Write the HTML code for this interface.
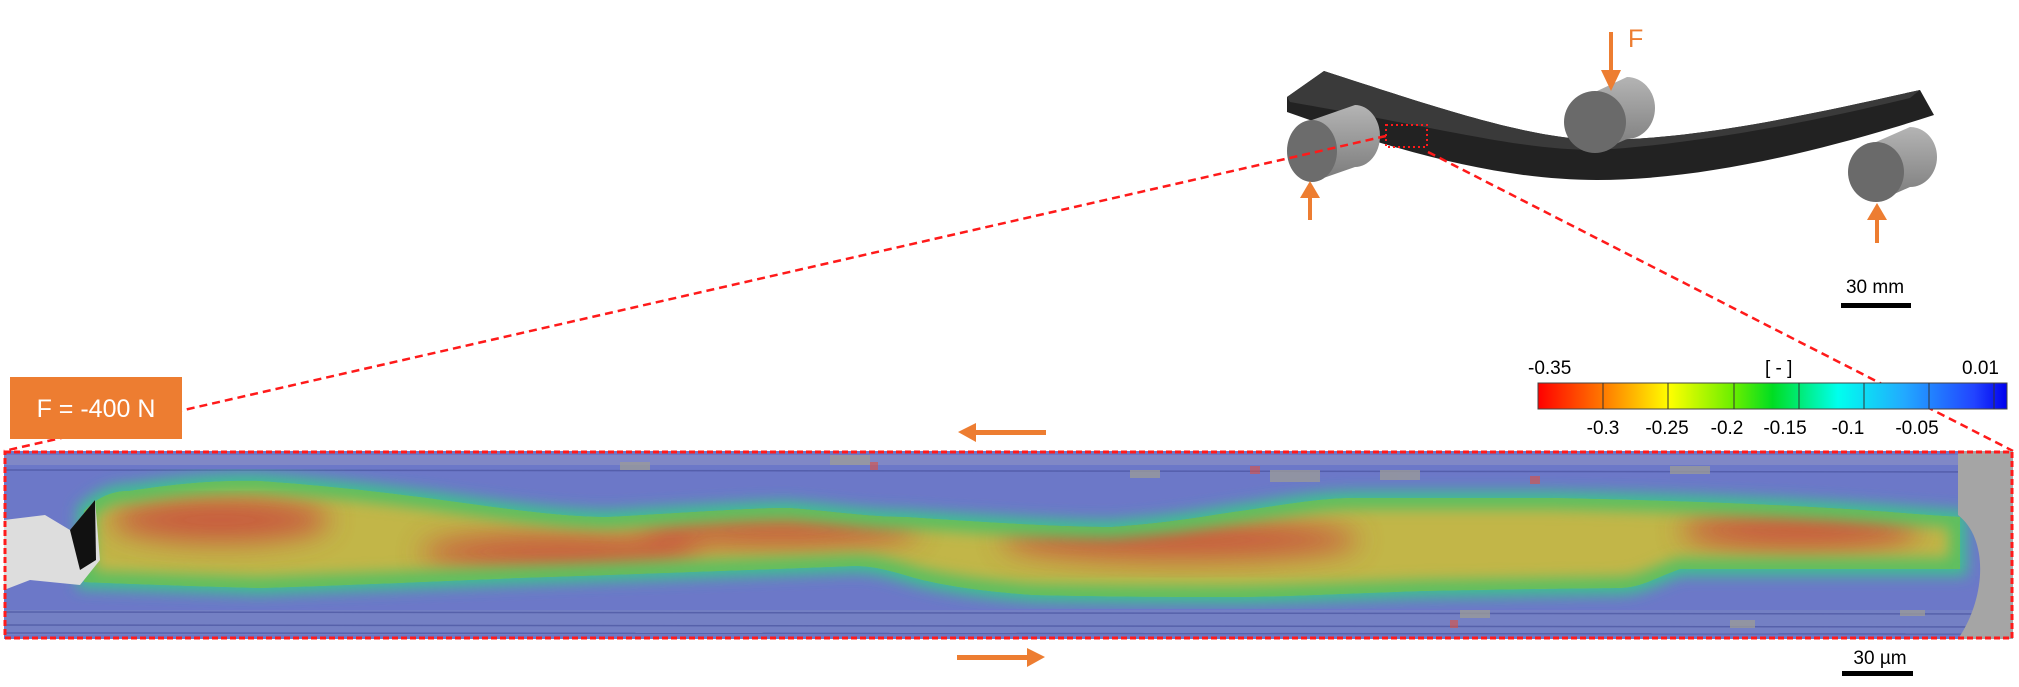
<!DOCTYPE html>
<html><head><meta charset="utf-8"><style>
html,body{margin:0;padding:0;background:#fff;}
body{width:2019px;height:687px;overflow:hidden;}
svg{display:block}
</style></head><body>
<svg width="2019" height="687" viewBox="0 0 2019 687" xmlns="http://www.w3.org/2000/svg">
<defs>
<filter id="b8"><feGaussianBlur stdDeviation="7"/></filter>
<filter id="b14"><feGaussianBlur stdDeviation="14"/></filter>
<linearGradient id="rol" x1="0" y1="0" x2="0" y2="1"><stop offset="0" stop-color="#b4b4b4"/><stop offset="1" stop-color="#7a7a7a"/></linearGradient>
<linearGradient id="cb" x1="0" y1="0" x2="1" y2="0">
<stop offset="0" stop-color="#ff0000"/><stop offset="0.14" stop-color="#ff7a00"/><stop offset="0.28" stop-color="#ffff00"/><stop offset="0.42" stop-color="#66ee00"/><stop offset="0.5" stop-color="#00dd22"/><stop offset="0.64" stop-color="#00ffee"/><stop offset="0.78" stop-color="#22aaff"/><stop offset="0.93" stop-color="#2244ff"/><stop offset="1" stop-color="#0000ee"/></linearGradient>
<clipPath id="sc"><rect x="4" y="451" width="2009" height="188"/></clipPath>
<clipPath id="bc"><path id="band" d="M84,511 C100,495 115,491 129,491 C180,483 220,480 259,481 C330,486 380,492 427,498 C500,508 560,517 608,517 C700,512 750,508 789,508 C840,512 870,517 905,517 C980,522 1060,527 1112,527 C1180,522 1210,515 1241,511 C1290,504 1320,498 1357,498 C1450,498 1500,498 1551,498 C1650,500 1740,503 1810,507 C1870,510 1910,514 1960,517 L1960,569 C1850,569 1750,569 1680,569 C1650,580 1640,588 1616,588 C1520,589 1470,590 1422,591 C1330,594 1280,597 1228,597 C1130,597 1080,596 1034,595 C960,590 920,580 905,575 C880,568 870,566 853,566 C750,570 640,574 517,578 C420,582 330,586 259,588 C190,586 130,584 84,582 Z"/></clipPath>
</defs>

<!-- beam -->
<path d="M1287,97 L1324,71 C1450,112 1530,138 1597,140 C1700,140 1820,112 1920,90 L1934,115 C1820,152 1700,180 1597,180 C1500,180 1400,152 1287,112 Z" fill="#222"/>
<path d="M1287,97 L1324,71 C1450,112 1530,138 1597,140 C1700,140 1820,112 1920,90 L1910,98 C1820,120 1700,144 1597,150 C1520,150 1450,130 1290,102 Z" fill="#3a3a3a"/>
<!-- rollers -->
<path d="M1312,120 L1355,105 A25,31 0 0 1 1355,167 L1312,182 Z" fill="url(#rol)"/>
<ellipse cx="1312" cy="151" rx="25" ry="31" fill="#6c6c6c"/>
<path d="M1595,92 L1627,77 A28,31 0 0 1 1627,139 L1595,153 Z" fill="url(#rol)"/>
<ellipse cx="1595" cy="122" rx="31" ry="31" fill="#6a6a6a"/>
<path d="M1876,142 L1910,127 A27,30 0 0 1 1910,187 L1876,202 Z" fill="url(#rol)"/>
<ellipse cx="1876" cy="172" rx="28" ry="30" fill="#6a6a6a"/>
<!-- force arrows -->
<g fill="#ed7d31" stroke="none">
<rect x="1609" y="32" width="4" height="44"/><polygon points="1601,70 1621,70 1611,91"/>
<rect x="1308" y="196" width="4" height="24"/><polygon points="1300,198 1320,198 1310,181"/>
<rect x="1875" y="218" width="4" height="25"/><polygon points="1867,220 1887,220 1877,203"/>
</g>
<text x="1628" y="47" font-family="Liberation Sans, sans-serif" font-size="25" fill="#ed7d31">F</text>
<rect x="1386" y="125" width="41" height="22" fill="none" stroke="#ff1a1a" stroke-width="2" stroke-dasharray="2,3"/>
<line x1="1386" y1="136" x2="4" y2="451" stroke="#ff1a1a" stroke-width="2.5" stroke-dasharray="8,5"/>
<line x1="1428" y1="152" x2="2013" y2="451" stroke="#ff1a1a" stroke-width="2.5" stroke-dasharray="8,5"/>
<text x="1875" y="293" text-anchor="middle" font-family="Liberation Sans, sans-serif" font-size="19" fill="#000">30 mm</text>
<rect x="1841" y="303" width="70" height="5" fill="#000"/>
<!-- colorbar -->
<rect x="1538" y="383" width="469" height="26" fill="url(#cb)" stroke="#444" stroke-width="1"/>
<g stroke="#333" stroke-width="1"><line x1="1603" y1="383" x2="1603" y2="409"/><line x1="1668" y1="383" x2="1668" y2="409"/><line x1="1734" y1="383" x2="1734" y2="409"/><line x1="1799" y1="383" x2="1799" y2="409"/><line x1="1864" y1="383" x2="1864" y2="409"/><line x1="1929" y1="383" x2="1929" y2="409"/><line x1="1994" y1="383" x2="1994" y2="409"/></g>
<g font-family="Liberation Sans, sans-serif" font-size="19" fill="#000">
<text x="1528" y="374">-0.35</text><text x="1765" y="374">[ - ]</text><text x="1962" y="374">0.01</text>
<g text-anchor="middle"><text x="1603" y="434">-0.3</text><text x="1667" y="434">-0.25</text><text x="1727" y="434">-0.2</text><text x="1785" y="434">-0.15</text><text x="1848" y="434">-0.1</text><text x="1917" y="434">-0.05</text></g>
</g>
<rect x="10" y="377" width="172" height="62" fill="#ed7d31"/>
<text x="96" y="417" text-anchor="middle" font-family="Liberation Sans, sans-serif" font-size="25" fill="#fff">F = -400 N</text>
<g fill="#ed7d31"><rect x="972" y="430" width="74" height="5"/><polygon points="958,432 976,423 976,442"/>
<rect x="957" y="655" width="74" height="5"/><polygon points="1045,657 1027,648 1027,667"/></g>
<!-- strip -->
<g clip-path="url(#sc)">
<rect x="4" y="451" width="2009" height="188" fill="#6c78c8"/>
<rect x="4" y="455" width="2009" height="10" fill="#8088c6"/>
<rect x="4" y="610" width="2009" height="25" fill="#7480c4"/>
<g stroke="#4a54a0" stroke-width="1.5" opacity="0.7"><line x1="4" y1="470" x2="2013" y2="472"/><line x1="4" y1="612" x2="2013" y2="614"/><line x1="4" y1="625" x2="2013" y2="627"/><line x1="4" y1="633" x2="2013" y2="634"/></g>
<use href="#band" fill="#3fbf90" stroke="#3fbf90" stroke-width="14" filter="url(#b8)"/>
<g clip-path="url(#bc)">
<use href="#band" fill="#c2b648"/>
<g fill="#c9503c" filter="url(#b14)" opacity="0.9">
<ellipse cx="220" cy="520" rx="110" ry="22"/>
<ellipse cx="560" cy="552" rx="140" ry="18"/>
<ellipse cx="780" cy="530" rx="140" ry="16"/>
<ellipse cx="1180" cy="540" rx="180" ry="20"/>
<ellipse cx="1800" cy="530" rx="120" ry="20"/>
</g>
<use href="#band" fill="none" stroke="#5cbf60" stroke-width="22" filter="url(#b8)"/>
</g>
<path d="M4,520 L45,515 L70,530 L95,500 L100,560 L80,585 L30,580 L4,590 Z" fill="#ddd"/>
<path d="M70,530 L95,500 L96,560 L80,570 Z" fill="#111"/>
<path d="M1958,451 L2013,451 L2013,639 L1958,639 C1985,600 1990,540 1958,515 Z" fill="#a5a5a5"/>
<g fill="#9a9a9a" opacity="0.8">
<rect x="620" y="462" width="30" height="8"/><rect x="830" y="455" width="40" height="10"/><rect x="1270" y="470" width="50" height="12"/><rect x="1380" y="470" width="40" height="10"/><rect x="1130" y="470" width="30" height="8"/>
<rect x="1460" y="610" width="30" height="8"/><rect x="1730" y="620" width="25" height="8"/><rect x="1900" y="610" width="25" height="6"/><rect x="1670" y="466" width="40" height="8"/>
</g>
<g fill="#e05040" opacity="0.6"><rect x="870" y="462" width="8" height="8"/><rect x="1250" y="466" width="10" height="8"/><rect x="1530" y="476" width="10" height="8"/><rect x="1450" y="620" width="8" height="8"/></g>
</g>
<rect x="5" y="452" width="2007" height="186" fill="none" stroke="#ff1a1a" stroke-width="3" stroke-dasharray="6,3"/>
<text x="1880" y="664" text-anchor="middle" font-family="Liberation Sans, DejaVu Sans, sans-serif" font-size="19" fill="#000">30 µm</text>
<rect x="1842" y="671" width="71" height="5" fill="#000"/>
</svg>
</body></html>
